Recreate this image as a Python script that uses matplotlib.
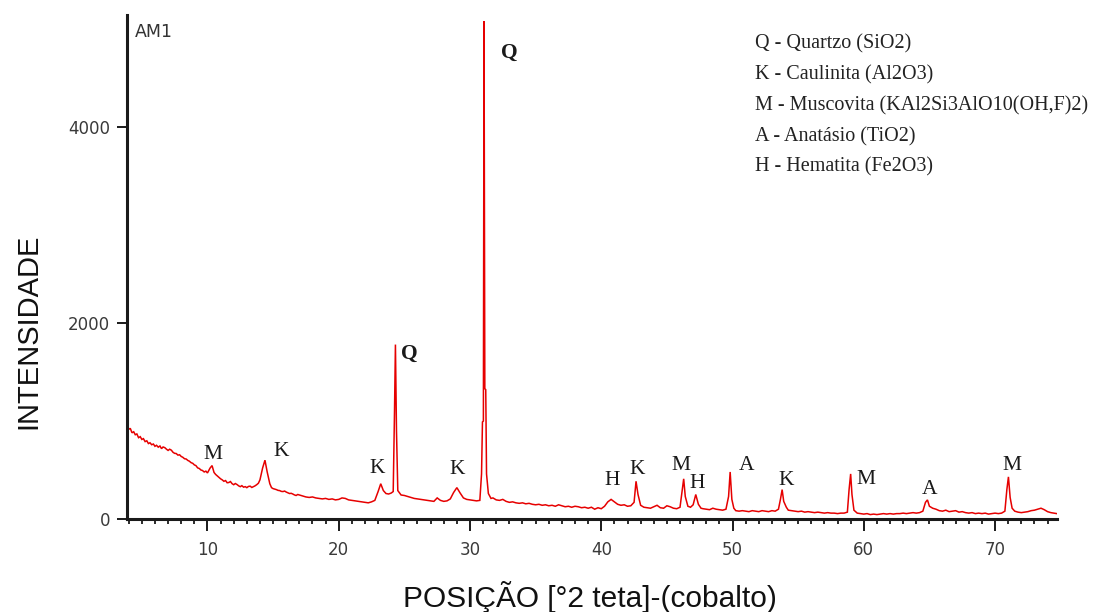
import matplotlib
matplotlib.use("Agg")
import matplotlib.pyplot as plt
from matplotlib.ticker import MultipleLocator, FixedLocator

# ---------------- data ----------------
pattern = [
    (3.90, 935), (4.00, 915), (4.12, 925), (4.25, 880), (4.38, 890), (4.50, 860),
    (4.62, 868), (4.75, 830), (4.88, 840), (5.00, 812), (5.12, 820), (5.25, 790),
    (5.38, 798), (5.50, 770), (5.62, 778), (5.75, 758), (5.88, 765), (6.00, 742),
    (6.12, 752), (6.25, 733), (6.38, 745), (6.50, 718), (6.62, 735), (6.75, 728),
    (6.88, 712), (7.00, 700), (7.12, 712), (7.25, 702), (7.38, 680), (7.50, 670),
    (7.62, 668), (7.75, 652), (7.88, 655), (8.00, 638), (8.12, 630), (8.25, 615),
    (8.38, 612), (8.50, 598), (8.62, 590), (8.75, 575), (8.88, 568), (9.00, 552),
    (9.12, 545), (9.25, 522), (9.38, 515), (9.50, 500), (9.62, 495), (9.75, 480),
    (9.88, 488), (10.00, 470), (10.20, 520), (10.35, 545), (10.50, 475), (10.62, 455),
    (10.75, 440), (10.88, 425), (11.00, 410), (11.12, 400), (11.25, 385), (11.38, 392),
    (11.50, 370), (11.62, 372), (11.75, 382), (11.88, 360), (12.00, 350), (12.12, 362),
    (12.25, 352), (12.38, 338), (12.50, 330), (12.62, 340), (12.75, 325), (12.88, 330),
    (13.00, 320), (13.12, 332), (13.25, 335), (13.38, 322), (13.50, 330), (13.62, 338),
    (13.75, 350), (13.88, 365), (14.00, 400), (14.20, 520), (14.38, 600), (14.55, 480),
    (14.75, 360), (14.88, 320), (15.00, 310), (15.12, 305), (15.25, 300), (15.38, 292),
    (15.50, 290), (15.62, 282), (15.75, 280), (15.88, 285), (16.00, 275), (16.12, 268),
    (16.25, 260), (16.38, 262), (16.50, 255), (16.62, 246), (16.75, 240), (16.88, 250),
    (17.00, 245), (17.25, 235), (17.50, 225), (17.75, 220), (18.00, 225),
    (18.25, 215), (18.50, 210), (18.75, 205), (19.00, 210), (19.25, 200), (19.50, 205),
    (19.75, 195), (20.00, 200), (20.25, 215), (20.50, 210), (20.75, 195), (21.00, 190),
    (21.25, 185), (21.50, 180), (21.75, 175), (22.00, 170), (22.25, 165), (22.50, 175),
    (22.75, 190), (23.00, 280), (23.20, 360), (23.40, 290), (23.60, 260), (23.80, 255),
    (24.00, 265), (24.15, 280), (24.25, 1100), (24.32, 1780), (24.40, 900), (24.50, 290),
    (24.75, 245), (25.00, 240), (25.25, 230), (25.50, 220), (25.75, 210), (26.00, 205),
    (26.25, 200), (26.50, 195), (26.75, 190), (27.00, 185), (27.25, 180), (27.50, 215),
    (27.75, 190), (28.00, 180), (28.25, 185), (28.50, 205), (28.75, 270), (29.00, 320),
    (29.25, 265), (29.50, 215), (29.75, 200), (30.00, 195), (30.25, 190), (30.50, 185),
    (30.75, 190), (30.88, 460), (30.95, 990), (31.02, 1000), (31.07, 5080), (31.13, 1330),
    (31.20, 1320), (31.26, 460), (31.40, 260), (31.60, 210), (31.75, 215), (32.00, 195),
    (32.25, 190), (32.50, 200), (32.75, 180), (33.00, 170), (33.25, 175), (33.50, 165),
    (33.75, 160), (34.00, 165), (34.25, 155), (34.50, 160), (34.75, 150), (35.00, 145),
    (35.25, 150), (35.50, 140), (35.75, 145), (36.00, 135), (36.25, 140), (36.50, 130),
    (36.75, 145), (37.00, 135), (37.25, 125), (37.50, 130), (37.75, 120), (38.00, 130),
    (38.25, 125), (38.50, 115), (38.75, 120), (39.00, 110), (39.25, 120), (39.50, 100),
    (39.75, 115), (40.00, 105), (40.25, 130), (40.50, 175), (40.75, 200), (41.00, 175),
    (41.25, 150), (41.50, 140), (41.75, 145), (42.00, 130), (42.25, 135), (42.50, 170),
    (42.65, 385), (42.80, 250), (43.00, 140), (43.25, 120), (43.50, 115), (43.75, 110),
    (44.00, 125), (44.25, 140), (44.50, 115), (44.75, 110), (45.00, 135), (45.25, 125),
    (45.50, 110), (45.75, 105), (46.00, 120), (46.15, 280), (46.28, 410), (46.40, 230),
    (46.60, 130), (46.80, 120), (47.00, 145), (47.20, 250), (47.40, 150), (47.60, 110),
    (47.75, 105), (48.00, 100), (48.25, 95), (48.50, 110), (48.75, 100), (49.00, 95),
    (49.25, 90), (49.50, 100), (49.70, 230), (49.82, 480), (49.95, 200), (50.10, 110),
    (50.25, 85), (50.50, 80), (50.75, 85), (51.00, 80), (51.25, 75), (51.50, 85),
    (51.75, 80), (52.00, 75), (52.25, 85), (52.50, 80), (52.75, 75), (53.00, 85),
    (53.25, 80), (53.50, 100), (53.65, 200), (53.78, 300), (53.90, 180), (54.10, 120),
    (54.25, 90), (54.50, 85), (54.75, 80), (55.00, 75), (55.25, 80), (55.50, 70),
    (55.75, 75), (56.00, 70), (56.25, 65), (56.50, 70), (56.75, 65), (57.00, 60),
    (57.25, 65), (57.50, 60), (57.75, 60), (58.00, 55), (58.25, 60), (58.50, 60),
    (58.75, 70), (58.88, 300), (59.00, 460), (59.10, 250), (59.25, 90), (59.50, 60),
    (59.75, 55), (60.00, 50), (60.25, 55), (60.50, 45), (60.75, 50), (61.00, 45),
    (61.25, 50), (61.50, 55), (61.75, 50), (62.00, 55), (62.25, 50), (62.50, 55),
    (62.75, 55), (63.00, 60), (63.25, 55), (63.50, 60), (63.75, 65), (64.00, 60),
    (64.25, 65), (64.50, 80), (64.70, 170), (64.85, 195), (65.00, 130), (65.25, 110),
    (65.50, 100), (65.75, 85), (66.00, 80), (66.25, 90), (66.50, 75), (66.75, 80),
    (67.00, 85), (67.25, 70), (67.50, 75), (67.75, 65), (68.00, 60), (68.25, 65),
    (68.50, 55), (68.75, 60), (69.00, 55), (69.25, 60), (69.50, 50), (69.75, 55),
    (70.00, 60), (70.25, 55), (70.50, 60), (70.75, 80), (70.90, 300), (71.02, 430),
    (71.15, 220), (71.30, 110), (71.50, 80), (71.75, 70), (72.00, 65), (72.25, 70),
    (72.50, 75), (72.75, 85), (73.00, 90), (73.25, 100), (73.50, 110), (73.75, 95),
    (74.00, 75), (74.25, 65), (74.50, 60), (74.70, 55),
]
two_theta = [p[0] for p in pattern]
intensity = [p[1] for p in pattern]

peak_labels = ["M", "K", "K", "Q", "K", "Q", "H", "K", "M", "H", "A", "K", "M", "A", "M"]
label_x = [10.4, 15.6, 22.9, 25.4, 29.0, 33.0, 40.8, 42.7, 46.1, 47.3, 51.1, 54.1, 60.2, 65.0, 71.3]
label_y = [663, 684, 520, 1684, 510, 4755, 388, 510, 551, 367, 541, 388, 408, 296, 551]

legend_lines = [
    "Q - Quartzo (SiO2)",
    "K - Caulinita (Al2O3)",
    "M - Muscovita (KAl2Si3AlO10(OH,F)2)",
    "A - Anatásio (TiO2)",
    "H - Hematita (Fe2O3)",
]

y_ticks = [0, 2000, 4000]
x_ticks = [10, 20, 30, 40, 50, 60, 70]

# ---------------- figure ----------------
W, H = 1097, 612
fig = plt.figure(figsize=(W / 100, H / 100), dpi=100)
ax = fig.add_axes([127 / W, 1 - 519 / H, (1057 - 127) / W, (519 - 15) / H])

ax.plot(two_theta, intensity, color="#e60000", lw=1.1, solid_joinstyle="miter")

ax.set_xlim(3.87, 74.72)
ax.set_ylim(0, 5143)

for s in ["top", "right"]:
    ax.spines[s].set_visible(False)
for s in ["left", "bottom"]:
    ax.spines[s].set_linewidth(2.2)
    ax.spines[s].set_color("#1a1a1a")

ax.xaxis.set_major_locator(FixedLocator(x_ticks))
ax.xaxis.set_minor_locator(MultipleLocator(1))
ax.yaxis.set_major_locator(FixedLocator(y_ticks))
ax.tick_params(axis="x", which="major", direction="out", length=8.5, width=1.4,
               color="#1a1a1a", labelsize=12, labelcolor="#3a3a3a", pad=7)
ax.tick_params(axis="x", which="minor", direction="out", length=3.5, width=1.3,
               color="#1a1a1a")
ax.tick_params(axis="y", which="major", direction="out", length=7, width=1.4,
               color="#1a1a1a", labelsize=12, labelcolor="#3a3a3a", pad=5)

fig.text(590 / W, 1 - 597 / H, "POSIÇÃO [°2 teta]-(cobalto)", fontsize=21.5,
         family="Liberation Sans", color="#111111", ha="center", va="center")
fig.text(28 / W, 1 - 331 / H, "INTENSIDADE", fontsize=21, rotation=90,
         family="Liberation Sans", color="#111111", ha="center", va="center")

ax.text(0.008, 0.985, "AM1", transform=ax.transAxes, ha="left", va="top",
        fontsize=12.5, color="#333333")

for t, x, y in zip(peak_labels, label_x, label_y):
    ax.text(x, y, t, ha="center", va="center", fontsize=15.5,
            family="Liberation Serif", color="#1a1a1a",
            fontweight="bold" if t == "Q" else "normal")

for i, line in enumerate(legend_lines):
    fig.text(755 / W, 1 - (44 + i * 30.8) / H, line, ha="left", va="center",
             fontsize=14.5, family="Liberation Serif", color="#222222")

fig.savefig("out.png", dpi=100)
